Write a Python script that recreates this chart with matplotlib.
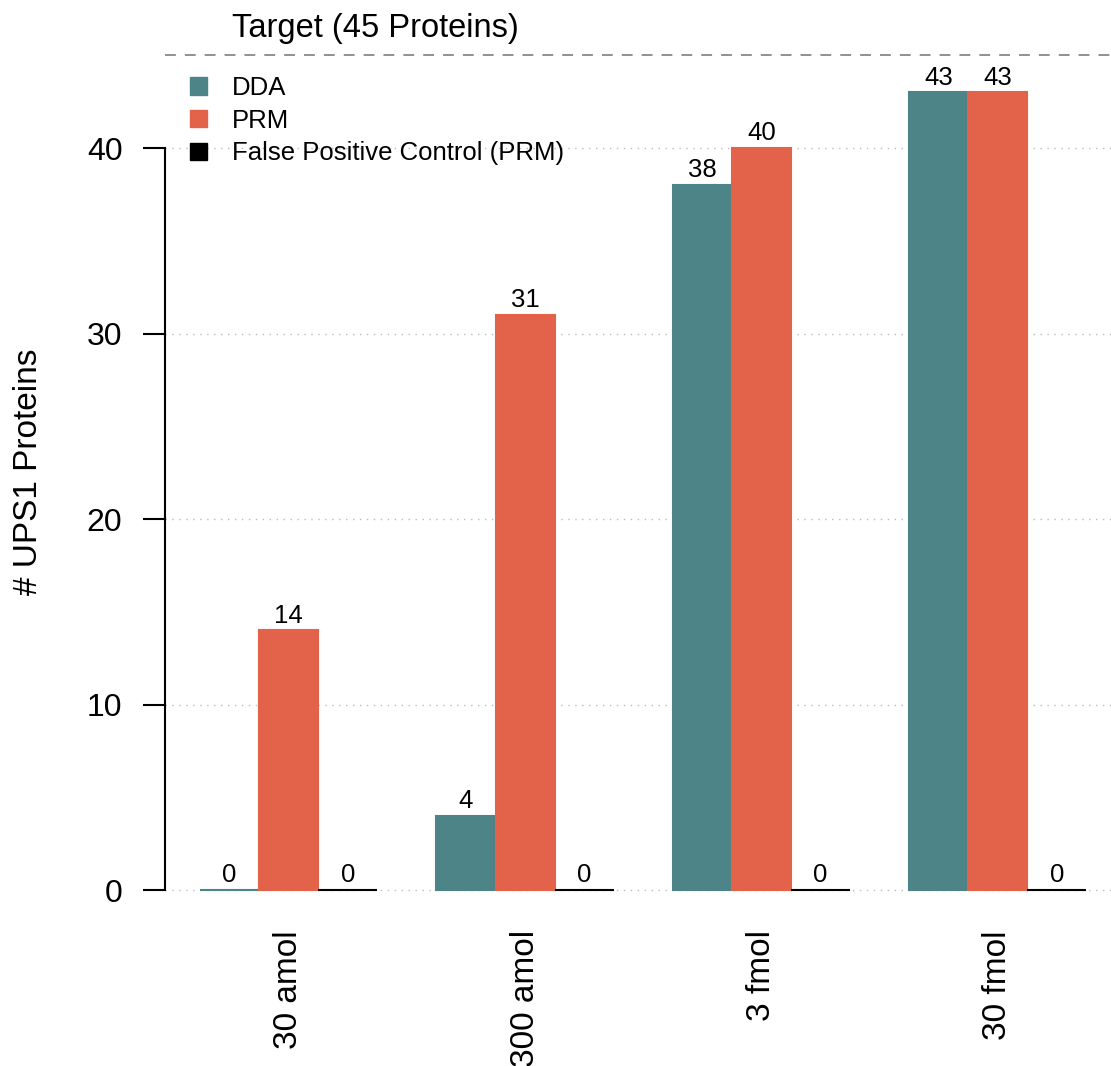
import numpy as np
import matplotlib
matplotlib.use('Agg')
import matplotlib.pyplot as plt
from matplotlib.patches import Patch

plt.rcParams['font.family'] = ['Liberation Sans', 'DejaVu Sans']

amounts = ['30 amol', '300 amol', '3 fmol', '30 fmol']
dda = [0, 4, 38, 43]
prm = [14, 31, 40, 43]
fp_control = [0, 0, 0, 0]
target = 45

teal = '#4D8488'
orange = '#E2634A'

fig = plt.figure(figsize=(11.11, 10.66), dpi=100)
# axes box: left edge at the y axis, bottom a bit under zero, top at the figure edge
ax = fig.add_axes([164.6 / 1111, 1 - 923.4 / 1066, 1 - 164.6 / 1111, 923.4 / 1066])

# R-style beside barplot: bar width 1, one empty slot between groups
grp_left = np.arange(len(amounts)) * 4 + 1
w = 1.0
b1 = ax.bar(grp_left + 0.5, dda, w, color=teal, edgecolor=teal, lw=1.5, zorder=3)
b2 = ax.bar(grp_left + 1.5, prm, w, color=orange, edgecolor=orange, lw=1.5, zorder=3)
b3 = ax.bar(grp_left + 2.5, fp_control, w, color='black', edgecolor='black', lw=1.5, zorder=3)
for bars in (b1, b2, b3):
    ax.bar_label(bars, padding=2, fontsize=18.5)

ax.set_xlim(0.4, 0.4 + 946 / 59.07)
ax.set_ylim(-1.8, 890 / 18.55)

# dotted grid and the dashed target line
for y in [0, 10, 20, 30, 40]:
    ax.axhline(y, color='#BBBBBB', lw=1.0, ls=(0, (1, 4)), zorder=1)
ax.axhline(target, color='#888888', lw=1.3, ls=(0, (6, 5)), zorder=1)
fig.text(232 / 1111, 1 - 37 / 1066, 'Target (45 Proteins)', fontsize=23.5,
         va='baseline', ha='left')

for s in ['top', 'right', 'bottom']:
    ax.spines[s].set_visible(False)
ax.spines['left'].set_bounds(0, 40)
ax.spines['left'].set_linewidth(1.5)

ax.set_yticks([0, 10, 20, 30, 40])
ax.tick_params(axis='y', length=16, width=1.5, pad=14.4, labelsize=23)
ax.set_xticks(grp_left + 1.5)
ax.set_xticklabels(amounts, rotation=90, fontsize=24)
ax.tick_params(axis='x', length=0, pad=4.8)

ax.set_ylabel('# UPS1 Proteins', fontsize=24)
ax.yaxis.set_label_coords(-0.1275, 0.489)

handles = [Patch(color=teal), Patch(color=orange), Patch(color='black')]
ax.legend(handles, ['DDA', 'PRM', 'False Positive Control (PRM)'],
          loc='upper left', bbox_to_anchor=(190 / 1111, 1 - 76 / 1066),
          bbox_transform=fig.transFigure, frameon=False, fontsize=18.5,
          borderpad=0, borderaxespad=0, handlelength=0.66, handleheight=0.66,
          handletextpad=0.97, labelspacing=0.34)

fig.savefig('out.png', dpi=100)
